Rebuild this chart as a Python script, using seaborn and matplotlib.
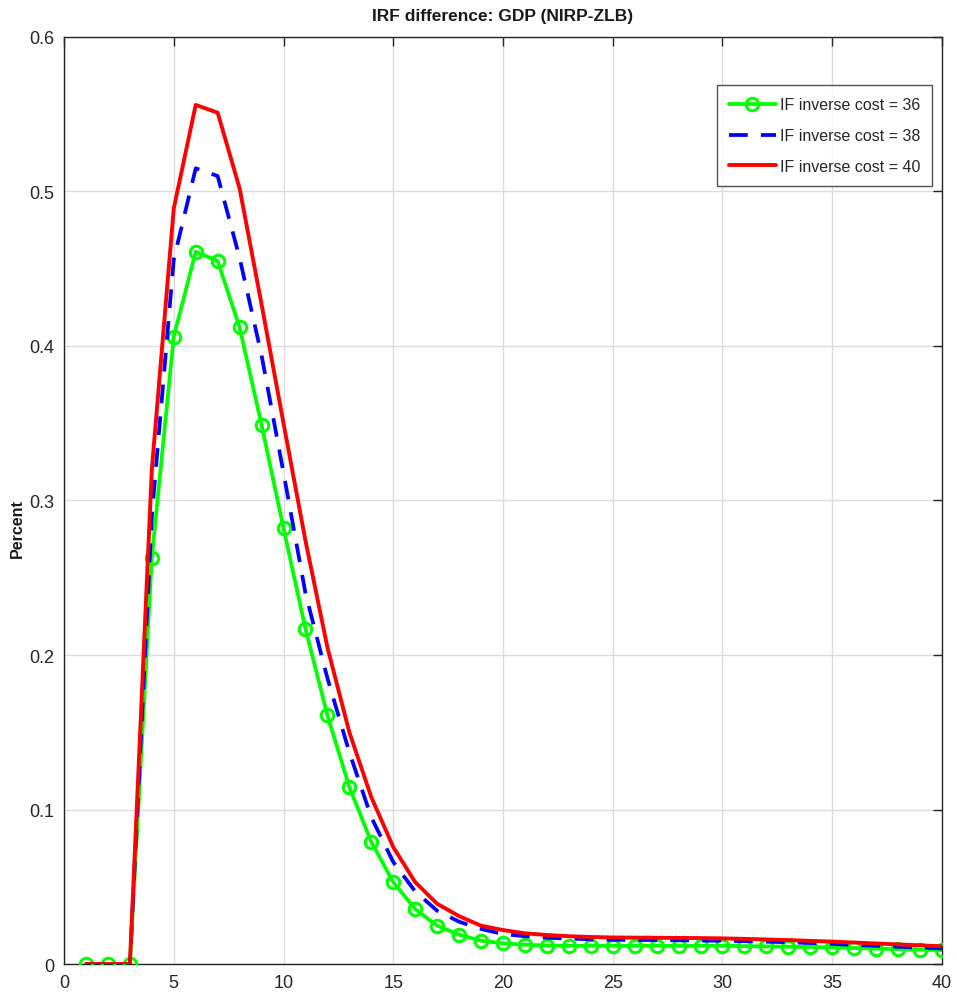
import matplotlib
matplotlib.use("Agg")
import matplotlib.pyplot as plt
import seaborn as sns
from matplotlib import font_manager

sns.set_style("white")

# ---- data ----
periods = list(range(1, 41))
cost36 = [0.0, 0.0, 0.0, 0.263, 0.406, 0.461, 0.455, 0.412, 0.349, 0.282,
          0.217, 0.161, 0.1145, 0.079, 0.053, 0.0356, 0.0248, 0.019, 0.0151, 0.0134,
          0.0125, 0.0120, 0.0118, 0.0118, 0.0118, 0.0118, 0.0118, 0.0118, 0.0118, 0.0118,
          0.0116, 0.0114, 0.0112, 0.0110, 0.0108, 0.0104, 0.0100, 0.0096, 0.0093, 0.0090]
cost38 = [0.0, 0.0, 0.0, 0.290, 0.456, 0.515, 0.510, 0.457, 0.394, 0.318,
          0.240, 0.185, 0.137, 0.095, 0.066, 0.047, 0.0345, 0.0274, 0.0227, 0.0194,
          0.0180, 0.0170, 0.0165, 0.0160, 0.0157, 0.0156, 0.0155, 0.0154, 0.0152, 0.0151,
          0.0148, 0.0145, 0.0141, 0.0136, 0.0130, 0.0124, 0.0118, 0.0112, 0.0106, 0.0101]
cost40 = [0.0, 0.0, 0.0, 0.320, 0.489, 0.556, 0.551, 0.502, 0.427, 0.350,
          0.274, 0.205, 0.150, 0.108, 0.0757, 0.053, 0.039, 0.031, 0.0248, 0.022,
          0.0199, 0.0188, 0.018, 0.0175, 0.0172, 0.0171, 0.0170, 0.0169, 0.0168, 0.0166,
          0.0163, 0.0159, 0.0155, 0.0150, 0.0145, 0.0139, 0.0133, 0.0127, 0.0121, 0.0115]
labels = ["IF inverse cost = 36", "IF inverse cost = 38", "IF inverse cost = 40"]
title = "IRF difference: GDP (NIRP-ZLB)"
ylabel = "Percent"
xticks = [0, 5, 10, 15, 20, 25, 30, 35, 40]
yticks = [0, 0.1, 0.2, 0.3, 0.4, 0.5, 0.6]
yticklabels = ["0", "0.1", "0.2", "0.3", "0.4", "0.5", "0.6"]

avail = {f.name for f in font_manager.fontManager.ttflist}
fam = ["Liberation Sans Narrow", "Liberation Sans", "DejaVu Sans"]
fam = [f for f in fam if f in avail] + ["DejaVu Sans"]
plt.rcParams["font.family"] = fam

fig = plt.figure(figsize=(9.57, 10.04), dpi=100)
ax = fig.add_axes([0.0669, 0.0388, 0.9174, 0.9234])

sns.lineplot(x=periods, y=cost36, ax=ax, color="#00ff00", linewidth=2.7,
             marker="o", markersize=9, markerfacecolor="none",
             markeredgecolor="#00ff00", markeredgewidth=2.2, label=labels[0], zorder=3)
sns.lineplot(x=periods, y=cost38, ax=ax, color="#0000ff", linewidth=2.7,
             label=labels[1], zorder=4)
ax.lines[-1].set_dashes([5, 3.5])
sns.lineplot(x=periods, y=cost40, ax=ax, color="#ff0000", linewidth=2.8,
             label=labels[2], zorder=5)

ax.set_xlim(0, 40)
ax.set_ylim(0, 0.6)
ax.set_xticks(xticks)
ax.set_yticks(yticks)
ax.set_xticklabels([str(t) for t in xticks])
ax.set_yticklabels(yticklabels)
ax.tick_params(direction="in", length=6.5, width=1, top=True, right=True,
               labelsize=13, colors="#262626", pad=7)
ax.grid(True, color="#dcdcdc", linewidth=1)
for s in ax.spines.values():
    s.set_color("#262626")
    s.set_linewidth(1)

ax.set_title(title, fontsize=12.5, fontweight="bold", pad=12, color="#1a1a1a")
ax.set_ylabel(ylabel, fontsize=11.5, fontweight="semibold", color="#1a1a1a")
ax.yaxis.set_label_coords(-0.0444, 0.471)
ax.set_xlabel("")

leg = ax.legend(loc="upper right", bbox_to_anchor=(0.9886, 0.948), fontsize=11.5,
                frameon=True, fancybox=False, edgecolor="#262626",
                handlelength=3.0, borderpad=0.75, labelspacing=1.0, handletextpad=0.2,
                borderaxespad=0)
leg.get_frame().set_linewidth(1)
for lh in leg.get_lines():
    if lh.get_marker() == "o":
        lh.set_markevery([1])

fig.savefig("out.png", dpi=100)
